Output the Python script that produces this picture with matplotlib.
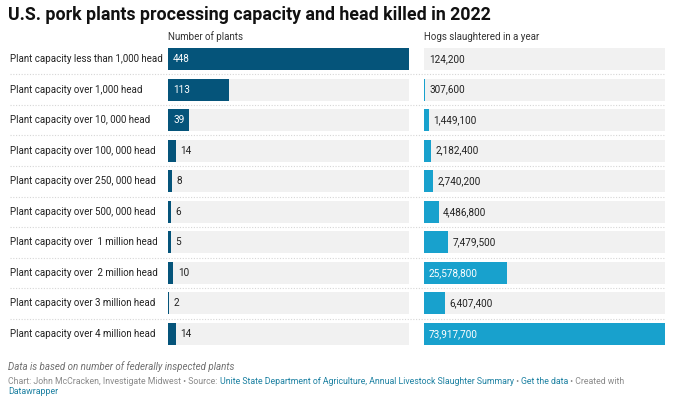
import matplotlib.pyplot as plt
import numpy as np

plt.rcParams['font.family'] = ['Roboto', 'DejaVu Sans']

# data
kategori = ['Plant capacity less than 1,000 head', 'Plant capacity over 1,000 head',
            'Plant capacity over 10, 000 head', 'Plant capacity over 100, 000 head',
            'Plant capacity over 250, 000 head', 'Plant capacity over 500, 000 head',
            'Plant capacity over  1 million head', 'Plant capacity over  2 million head',
            'Plant capacity over 3 million head', 'Plant capacity over 4 million head']
jumlah_pabrik = [448, 113, 39, 14, 8, 6, 5, 10, 2, 14]
babi_dipotong = [124200, 307600, 1449100, 2182400, 2740200, 4486800,
                 7479500, 25578800, 6407400, 73917700]
judul_kolom = ['Number of plants', 'Hogs slaughtered in a year']

W, H = 673, 399
DARK = '#05547a'
LIGHT = '#18a1cd'
BG = '#f1f1f1'
TXT = '#333333'

fig = plt.figure(figsize=(W / 100, H / 100), dpi=100)
renderer = fig.canvas.get_renderer()

n = len(kategori)
row_top, row_bot = 43.7, 349.3   # pixel
y0 = 1 - row_bot / H
hh = (row_bot - row_top) / H


def fx(px):
    return px / W


def fy(py):
    return 1 - py / H


# garis pemisah titik-titik
ax_bg = fig.add_axes([fx(10), y0, fx(655), hh])
ax_bg.set_xlim(0, 1)
ax_bg.set_ylim(n - 0.5, -0.5)
ax_bg.axis('off')
for i in range(n - 1):
    ax_bg.axhline(i + 0.5, color='#d6d6d6', linestyle=(0, (1, 1.5)), linewidth=0.8)

# label kategori
for i, k in enumerate(kategori):
    ax_bg.text(0, i, k, ha='left', va='center', fontsize=7.0, color='#222222',
               transform=ax_bg.get_yaxis_transform())

kolom = [(168, jumlah_pabrik, DARK), (424, babi_dipotong, LIGHT)]
for (xpx, vals, warna), judul in zip(kolom, judul_kolom):
    ax = fig.add_axes([fx(xpx), y0, fx(241), hh])
    vmax = max(vals)
    idx = np.arange(n)
    ax.barh(idx, [vmax] * n, height=0.72, color=BG)
    ax.barh(idx, vals, height=0.72, color=warna)
    ax.set_xlim(0, vmax)
    ax.set_ylim(n - 0.5, -0.5)
    ax.axis('off')
    fig.text(fx(xpx), fy(37), judul, fontsize=7.0, color=TXT, va='center', ha='left')

    # angka: di dalam bar kalo muat, kalo tidak di luar
    for i, v in enumerate(vals):
        lbl = f'{v:,}'
        bar_px = v / vmax * 241
        t = ax.text(0, i, lbl, fontsize=7.2, va='center')
        tw = t.get_window_extent(renderer).width
        t.remove()
        if bar_px > tw + 7:
            ax.text(5 / 241 * vmax, i, lbl, fontsize=7.2, va='center',
                    ha='left', color='white')
        else:
            ax.text(v + 4.5 / 241 * vmax, i, lbl, fontsize=7.2, va='center',
                    ha='left', color='#222222')

# judul
fig.text(fx(8), fy(15), 'U.S. pork plants processing capacity and head killed in 2022',
         fontsize=12.8, fontweight='bold', color='#111111', va='center', ha='left')

# catatan kaki
fig.text(fx(8), fy(367), 'Data is based on number of federally inspected plants',
         fontsize=7.0, style='italic', color='#707070', va='center', ha='left')

GREY = '#8a8a8a'
BLUE = '#1d81a2'
potongan = [('Chart: John McCracken, Investigate Midwest \u2022 Source: ', GREY),
            ('Unite State Department of Agriculture, Annual Livestock Slaughter Summary', BLUE),
            (' \u2022 ', GREY), ('Get the data', BLUE), (' \u2022 Created with', GREY)]
xpos = 8
for teks, c in potongan:
    t = fig.text(fx(xpos), fy(381), teks, fontsize=6.3, color=c, va='center', ha='left')
    xpos += t.get_window_extent(renderer).width
fig.text(fx(8), fy(392), 'Datawrapper', fontsize=6.3, color=BLUE, va='center', ha='left')

fig.savefig('out.png', dpi=100)
